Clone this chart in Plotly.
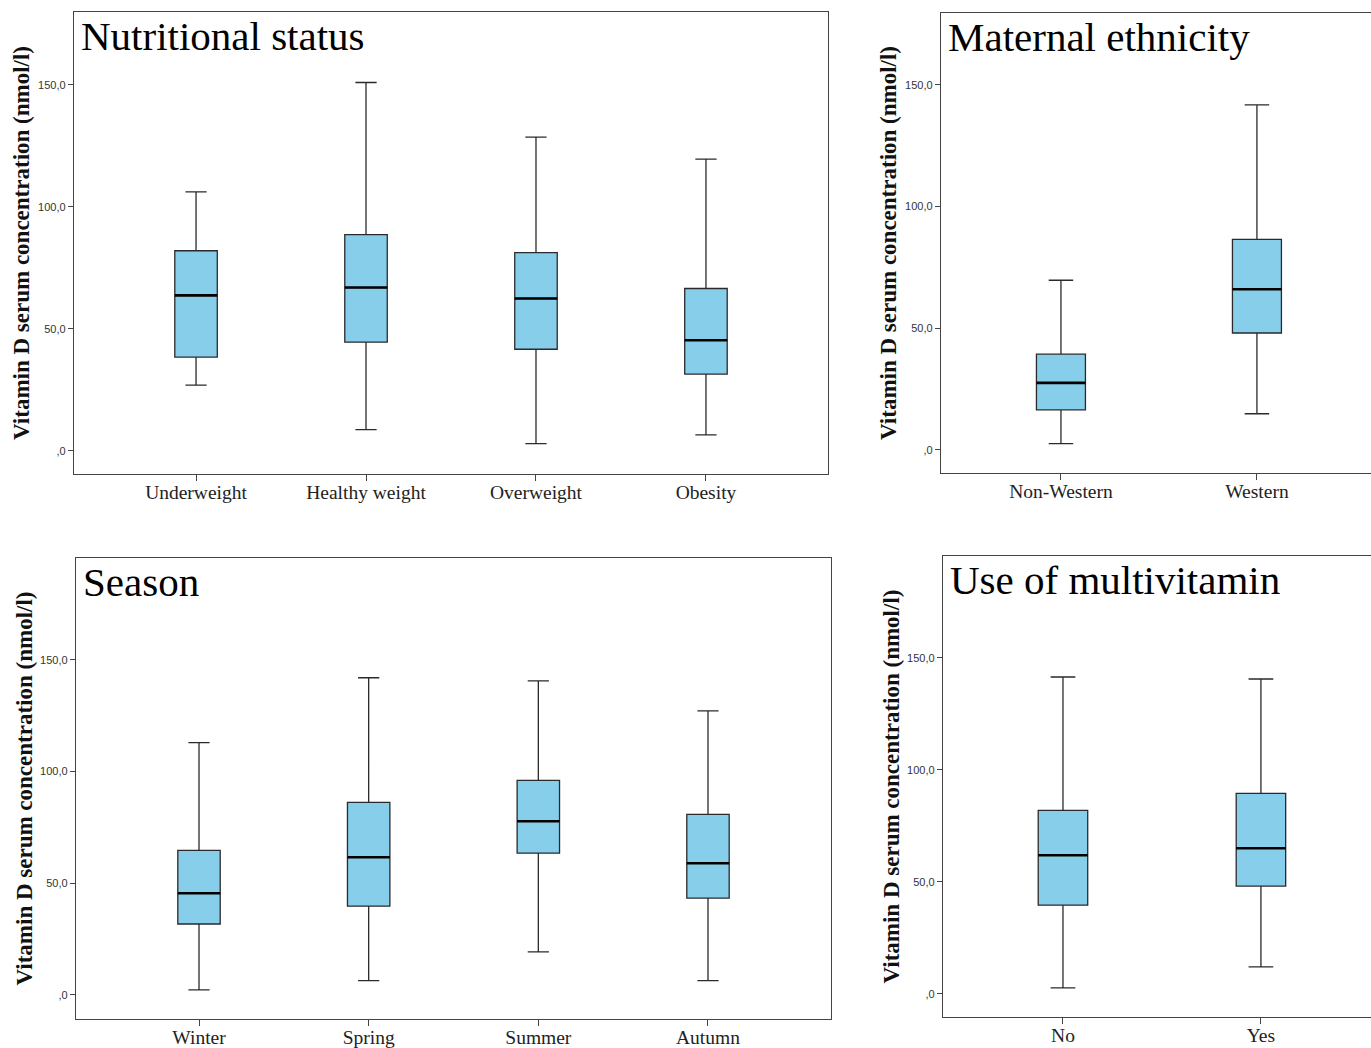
import plotly.graph_objects as go

# ---------------- data ----------------
nut_cats = ["Underweight", "Healthy weight", "Overweight", "Obesity"]
nut_low = [26.9, 8.6, 2.9, 6.5]
nut_q1 = [38.4, 44.5, 41.6, 31.4]
nut_med = [63.7, 66.9, 62.4, 45.3]
nut_q3 = [82.0, 88.6, 81.2, 66.5]
nut_high = [106.1, 151.0, 128.6, 119.6]

eth_cats = ["Non-Western", "Western"]
eth_low = [2.5, 14.8]
eth_q1 = [16.4, 48.0]
eth_med = [27.5, 66.0]
eth_q3 = [39.3, 86.5]
eth_high = [69.7, 141.8]

sea_cats = ["Winter", "Spring", "Summer", "Autumn"]
sea_low = [2.2, 6.3, 19.2, 6.3]
sea_q1 = [31.7, 39.7, 63.4, 43.3]
sea_med = [45.5, 61.6, 77.7, 58.9]
sea_q3 = [64.7, 86.2, 96.0, 80.8]
sea_high = [112.9, 142.0, 140.6, 127.2]

mv_cats = ["No", "Yes"]
mv_low = [2.7, 12.0]
mv_q1 = [39.6, 48.1]
mv_med = [61.9, 65.0]
mv_q3 = [81.9, 89.5]
mv_high = [141.5, 140.6]

y_tickvals = [0, 50, 100, 150]
y_ticktext = [",0", "50,0", "100,0", "150,0"]
y_title = "Vitamin D serum concentration (nmol/l)"

titles = ["Nutritional status", "Maternal ethnicity", "Season", "Use of multivitamin"]

# ---------------- layout geometry ----------------
W, H = 1371, 1048


def vy(y):
    # small vertical correction for the capture
    return y * 1.007 + 0.3


panels = [
    dict(cats=nut_cats, low=nut_low, q1=nut_q1, med=nut_med, q3=nut_q3, high=nut_high,
         px=(74, 828), py=(12, 475), xr=[-0.718, 3.718], yr=[-9.4, 179.8], right=True),
    dict(cats=eth_cats, low=eth_low, q1=eth_q1, med=eth_med, q3=eth_q3, high=eth_high,
         px=(941, 1371), py=(13, 474), xr=[-0.612, 1.582], yr=[-9.4, 179.5], right=False),
    dict(cats=sea_cats, low=sea_low, q1=sea_q1, med=sea_med, q3=sea_q3, high=sea_high,
         px=(76, 831), py=(560, 1022), xr=[-0.725, 3.725], yr=[-10.7, 195.5], right=True),
    dict(cats=mv_cats, low=mv_low, q1=mv_q1, med=mv_med, q3=mv_q3, high=mv_high,
         px=(943, 1371), py=(558, 1020), xr=[-0.606, 1.556], yr=[-10.2, 195.4], right=False),
]

BOX_W = 0.25
FILL = "#87CEEB"
LINE = "#2a2a2a"
SERIF = "Liberation Serif, Times New Roman, serif"

fig = go.Figure()
layout = dict(width=W, height=H, margin=dict(l=0, r=0, t=0, b=0),
              paper_bgcolor="white", plot_bgcolor="white", showlegend=False)
annotations = []

for i, p in enumerate(panels):
    n = i + 1
    xa = "x" if n == 1 else f"x{n}"
    ya = "y" if n == 1 else f"y{n}"
    xpos = list(range(len(p["cats"])))
    fig.add_trace(go.Box(
        x=xpos, q1=p["q1"], median=p["med"], q3=p["q3"],
        lowerfence=p["low"], upperfence=p["high"],
        width=BOX_W, whiskerwidth=0.5,
        fillcolor=FILL, line=dict(color=LINE, width=1.3),
        xaxis=xa, yaxis=ya, hoverinfo="skip", boxpoints=False,
    ))
    # thicker median lines
    for xi, m in zip(xpos, p["med"]):
        fig.add_trace(go.Scatter(
            x=[xi - BOX_W / 2, xi + BOX_W / 2], y=[m, m], mode="lines",
            line=dict(color="black", width=2.6), xaxis=xa, yaxis=ya,
            hoverinfo="skip",
        ))
    x0, x1 = p["px"][0] / W, min(p["px"][1] / W, 1.0)
    y0, y1 = 1 - vy(p["py"][1]) / H, 1 - vy(p["py"][0]) / H
    xkey = "xaxis" if n == 1 else f"xaxis{n}"
    ykey = "yaxis" if n == 1 else f"yaxis{n}"
    layout[xkey] = dict(
        domain=[x0, x1], range=p["xr"], anchor=ya,
        tickmode="array", tickvals=xpos, ticktext=p["cats"],
        ticks="outside", ticklen=6, tickwidth=1.3, tickcolor="#444",
        ticklabelstandoff=-5,
        showline=True, linecolor="#444", linewidth=1.4, mirror=True,
        showgrid=False, zeroline=False,
        tickfont=dict(family=SERIF, size=19.5, color="#222"),
    )
    layout[ykey] = dict(
        domain=[y0, y1], range=p["yr"], anchor=xa,
        tickmode="array", tickvals=y_tickvals, ticktext=y_ticktext,
        ticks="outside", ticklen=5, tickwidth=1.2, tickcolor="#444",
        showline=True, linecolor="#444", linewidth=1.4,
        mirror=True if p["right"] else False,
        showgrid=False, zeroline=False,
        tickfont=dict(family="Liberation Sans Narrow, Liberation Sans, Arial, sans-serif",
                      size=11, color="#333"),
    )
    # in-frame title
    annotations.append(dict(
        text=titles[i], xref="paper", yref="paper",
        x=x0 + 5 / W, y=y1 + 1 / H, xanchor="left", yanchor="top",
        showarrow=False, font=dict(family=SERIF, size=41, color="black"),
    ))
    # y-axis title
    annotations.append(dict(
        text=y_title, xref="paper", yref="paper",
        x=(p["px"][0] - 52) / W, y=(y0 + y1) / 2, xanchor="center", yanchor="middle",
        textangle=-90, showarrow=False,
        font=dict(family=SERIF, size=23, color="#111", weight="bold"),
    ))

layout["annotations"] = annotations
fig.update_layout(**layout)
fig.write_html(
    "out.html",
    config={"displayModeBar": False},
    post_script=(
        "document.documentElement.style.margin='0';"
        "document.documentElement.style.overflow='hidden';"
        "document.body.style.margin='0';document.body.style.padding='0';"
        "document.body.style.overflow='hidden';"
        "document.body.style.height='1048px';"
        "document.querySelectorAll('.plotly-graph-div').forEach(function(d){"
        "d.style.overflow='hidden';d.style.height='1048px';});"
    ),
)
